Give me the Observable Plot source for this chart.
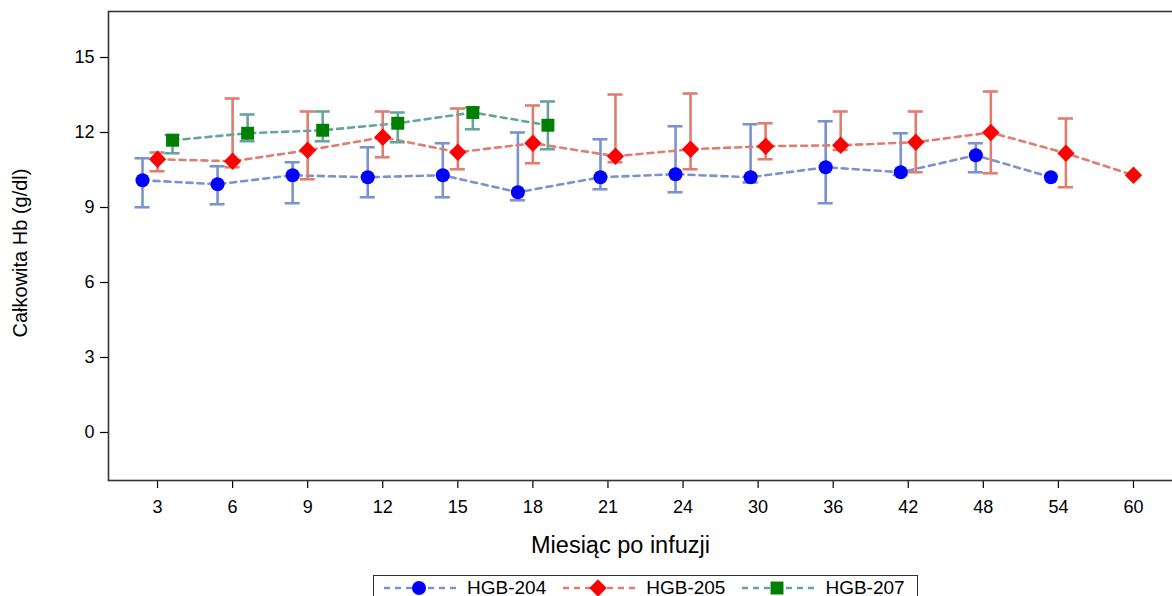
<!DOCTYPE html>
<html>
<head>
<meta charset="utf-8">
<script src="https://cdn.jsdelivr.net/npm/d3@7"></script>
<script src="https://cdn.jsdelivr.net/npm/@observablehq/plot@0.6"></script>
<style>
  html, body { margin: 0; padding: 0; overflow: hidden; background: #fff; }
  body { font-family: "Liberation Sans", Arial, sans-serif; width: 1172px; height: 596px; position: relative; }
  #chart { position: absolute; left: 0; top: 0; width: 1190px; }
  #chart svg { max-width: none !important; }
  #legend { position: absolute; left: 373px; top: 575px; width: 545px; height: 26px;
            border: 1px solid #333; box-sizing: border-box; display: flex; align-items: flex-start;
            padding-left: 9px; padding-top: 1px; font-size: 19px; color: #000; white-space: nowrap; }
  .item { display: flex; align-items: center; margin-right: 16px; height: 22px; flex-shrink: 0; }
  .item svg { margin-right: 10px; flex-shrink: 0; }
</style>
</head>
<body>
<div id="chart"></div>
<div id="legend"></div>
<script>
// ---- data ----
const months = [3, 6, 9, 12, 15, 18, 21, 24, 30, 36, 42, 48, 54, 60];
const seriesNames = ["HGB-204", "HGB-205", "HGB-207"];

const hgb204Mean = [10.09, 9.93, 10.29, 10.21, 10.29, 9.61, 10.21, 10.33, 10.21, 10.61, 10.41, 11.09, 10.21, null];
const hgb204Low  = [9.01, 9.13, 9.17, 9.41, 9.41, 9.29, 9.73, 9.61, 10.0, 9.17, 10.3, 10.41, null, null];
const hgb204High = [10.97, 10.65, 10.81, 11.41, 11.57, 12.0, 11.73, 12.25, 12.33, 12.45, 11.97, 11.57, null, null];

const hgb205Mean = [10.93, 10.85, 11.29, 11.81, 11.21, 11.57, 11.05, 11.33, 11.45, 11.49, 11.61, 12.0, 11.17, 10.29];
const hgb205Low  = [10.45, 10.61, 10.13, 11.01, 10.53, 10.77, 10.81, 10.53, 10.93, 11.3, 10.41, 10.37, 9.81, null];
const hgb205High = [11.2, 13.36, 12.84, 12.84, 12.96, 13.08, 13.52, 13.56, 12.37, 12.84, 12.84, 13.64, 12.56, null];

const hgb207Mean = [11.69, 11.97, 12.09, 12.37, 12.8, 12.29, null, null, null, null, null, null, null, null];
const hgb207Low  = [11.17, 11.65, 11.65, 11.61, 12.13, 11.33, null, null, null, null, null, null, null, null];
const hgb207High = [11.9, 12.72, 12.84, 12.8, 13.0, 13.24, null, null, null, null, null, null, null, null];

const yTicks = [0, 3, 6, 9, 12, 15];

// ---- styles ----
const lineColors = ["#7A92CE", "#DE7E70", "#66A59F"];
const markColors = ["#0000FF", "#FF0000", "#008000"];
const symbols = ["circle", "diamond2", "square"];
const symbolR = [7, 7.8, 7.3];

// ---- build table ----
const means = [hgb204Mean, hgb205Mean, hgb207Mean];
const lows = [hgb204Low, hgb205Low, hgb207Low];
const highs = [hgb204High, hgb205High, hgb207High];
const clusterStep = 0.2; // spacing between groups inside a category (category units)
const rows = [];
months.forEach((m, i) => {
  const present = [0, 1, 2].filter(g => means[g][i] != null);
  present.forEach((g, j) => {
    rows.push({
      group: g, series: seriesNames[g], month: m, idx: i,
      pos: i + (j - (present.length - 1) / 2) * clusterStep,
      mean: means[g][i], low: lows[g][i], high: highs[g][i]
    });
  });
});

const capHalf = 0.1;
const marks = [];
[0, 1, 2].forEach(g => {
  const d = rows.filter(r => r.group === g);
  const eb = d.filter(r => r.low != null && r.high != null);
  marks.push(Plot.ruleX(eb, {x: "pos", y1: "low", y2: "high", stroke: lineColors[g], strokeWidth: 2.6}));
  marks.push(Plot.ruleY(eb, {y: "low", x1: r => r.pos - capHalf, x2: r => r.pos + capHalf, stroke: lineColors[g], strokeWidth: 2.6}));
  marks.push(Plot.ruleY(eb, {y: "high", x1: r => r.pos - capHalf, x2: r => r.pos + capHalf, stroke: lineColors[g], strokeWidth: 2.6}));
  marks.push(Plot.line(d, {x: "pos", y: "mean", stroke: lineColors[g], strokeWidth: 2.6, strokeDasharray: "6,5"}));
});
[0, 1, 2].forEach(g => {
  const d = rows.filter(r => r.group === g);
  marks.push(Plot.dot(d, {x: "pos", y: "mean", symbol: () => symbols[g], r: symbolR[g], fill: markColors[g], stroke: "none"}));
});

const chart = Plot.plot({
  width: 1190, height: 572,
  marginLeft: 108, marginRight: 8, marginTop: 11, marginBottom: 92,
  style: {fontFamily: "'Liberation Sans', Arial, sans-serif", color: "#000", background: "transparent", overflow: "visible", maxWidth: "none"},
  x: {type: "linear", domain: [-0.653, months.length - 1 + 0.653], axis: null},
  y: {domain: [-1.92, 16.84], axis: null},
  symbol: {type: "identity"},
  marks: [
    Plot.axisX(d3.range(months.length), {tickFormat: i => String(months[i]), tickSize: 8, tickPadding: 12, fontSize: 18, label: null, stroke: "#000", strokeWidth: 1.2}),
    Plot.axisY(yTicks, {tickSize: 8, tickPadding: 6, fontSize: 18, label: null, stroke: "#000", strokeWidth: 1.2}),
    Plot.text(["Całkowita Hb (g/dl)"], {frameAnchor: "left", textAnchor: "middle", dx: -88, dy: 7, rotate: -90, fontSize: 20, fill: "#000"}),
    Plot.text(["Miesiąc po infuzji"], {frameAnchor: "bottom", dx: -25, dy: 72, fontSize: 23.5, fill: "#000"}),
    ...marks,
    Plot.frame({stroke: "#333", strokeWidth: 1.6})
  ]
});
chart.style.maxWidth = "none";
document.getElementById("chart").appendChild(chart);

// ---- legend ----
const legend = document.getElementById("legend");
seriesNames.forEach((name, g) => {
  const item = document.createElement("div");
  item.className = "item";
  const sym = d3.symbol(symbols[g] === "circle" ? d3.symbolCircle : symbols[g] === "square" ? d3.symbolSquare : d3.symbolDiamond2, Math.PI * symbolR[g] * symbolR[g])();
  item.innerHTML = `<svg width="74" height="22" viewBox="0 0 74 22">
    <line x1="1" x2="73" y1="11" y2="11" stroke="${lineColors[g]}" stroke-width="2.6" stroke-dasharray="6,5"></line>
    <path d="${sym}" transform="translate(36,11)" fill="${markColors[g]}"></path></svg><span>${name}</span>`;
  legend.appendChild(item);
});
</script>
</body>
</html>
